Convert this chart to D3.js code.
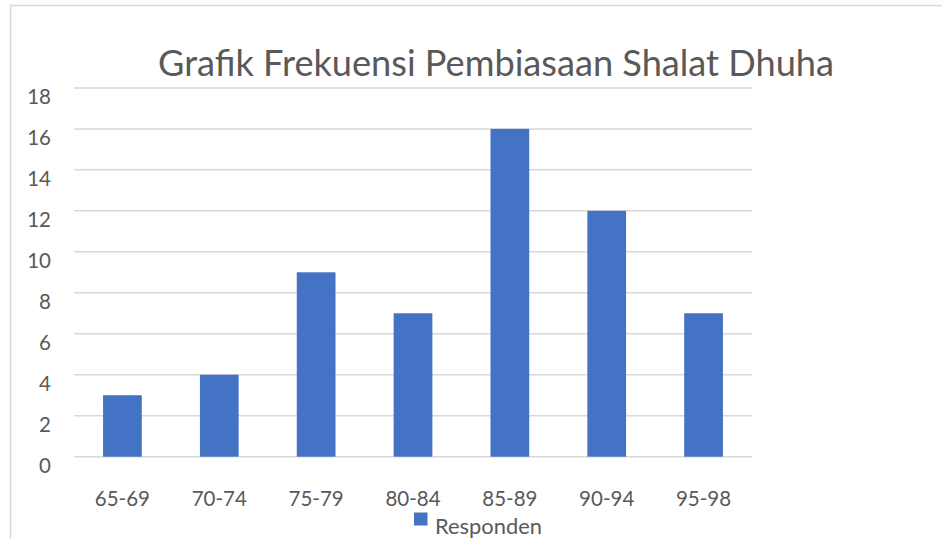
<!DOCTYPE html>
<html>
<head>
<meta charset="utf-8">
<script src="https://cdn.jsdelivr.net/npm/d3@7"></script>
<style>
  html, body { margin: 0; padding: 0; background: #fff; }
  svg { display: block; font-family: Lato, "Open Sans", sans-serif; }
</style>
</head>
<body>
<svg></svg>
<script>
const categories = ["65-69", "70-74", "75-79", "80-84", "85-89", "90-94", "95-98"];
const responden = [3, 4, 9, 7, 16, 12, 7];
const yTicks = [0, 2, 4, 6, 8, 10, 12, 14, 16, 18];
const seriesName = "Responden";
const title = "Grafik Frekuensi Pembiasaan Shalat Dhuha";

function main() {
    const width = 942;
    const height = 539;
    const textColor = "#595959";
    const gridColor = "#d9d9d9";
    const barColor = "#4472c4";

    const svg = d3.select("svg")
        .attr("width", width)
        .attr("height", height);

    // chart frame
    svg.append("rect")
        .attr("x", 10.5).attr("y", 5.5)
        .attr("width", 960).attr("height", 560)
        .attr("fill", "#fff")
        .attr("stroke", gridColor)
        .attr("stroke-width", 1.5);

    const x = d3.scaleBand()
        .domain(categories)
        .range([74, 752])
        .paddingInner(0.6)
        .paddingOuter(0.3);

    const y = d3.scaleLinear()
        .domain([0, 18])
        .range([456.7, 87.9]);

    // gridlines
    svg.append("g").selectAll("line")
        .data(yTicks)
        .enter()
        .append("line")
        .attr("x1", 74).attr("x2", 752)
        .attr("y1", d => y(d)).attr("y2", d => y(d))
        .attr("stroke", gridColor)
        .attr("stroke-width", 1.5);

    // y labels (sit a bit under their gridline, like the original)
    svg.append("g").selectAll("text")
        .data(yTicks)
        .enter()
        .append("text")
        .attr("x", 51)
        .attr("y", d => y(d) + 16.5)
        .attr("text-anchor", "end")
        .attr("font-size", 20.5)
        .attr("fill", textColor)
        .text(d => d);

    // bars
    svg.append("g").selectAll("rect")
        .data(responden)
        .enter()
        .append("rect")
        .attr("x", (d, i) => x(categories[i]))
        .attr("y", d => y(d))
        .attr("width", x.bandwidth())
        .attr("height", d => y(0) - y(d))
        .attr("fill", barColor);

    // category labels
    svg.append("g").selectAll("text")
        .data(categories)
        .enter()
        .append("text")
        .attr("x", d => x(d) + x.bandwidth() / 2)
        .attr("y", 505.5)
        .attr("text-anchor", "middle")
        .attr("font-size", 20.5)
        .attr("fill", textColor)
        .text(d => d);

    // title, sized to the original width
    const t = svg.append("text")
        .attr("x", 496)
        .attr("y", 76)
        .attr("text-anchor", "middle")
        .attr("font-size", 32)
        .attr("fill", textColor)
        .text(title);
    const tw = t.node().getComputedTextLength();
    t.attr("font-size", 32 * 676 / tw);

    // legend
    svg.append("rect")
        .attr("x", 414).attr("y", 512.5)
        .attr("width", 13.5).attr("height", 13)
        .attr("fill", barColor);
    const lg = svg.append("text")
        .attr("x", 435)
        .attr("y", 534)
        .attr("font-size", 20)
        .attr("fill", textColor)
        .text(seriesName);
    const lw = lg.node().getComputedTextLength();
    lg.attr("font-size", 20 * 107 / lw);
}

main();
</script>
</body>
</html>
